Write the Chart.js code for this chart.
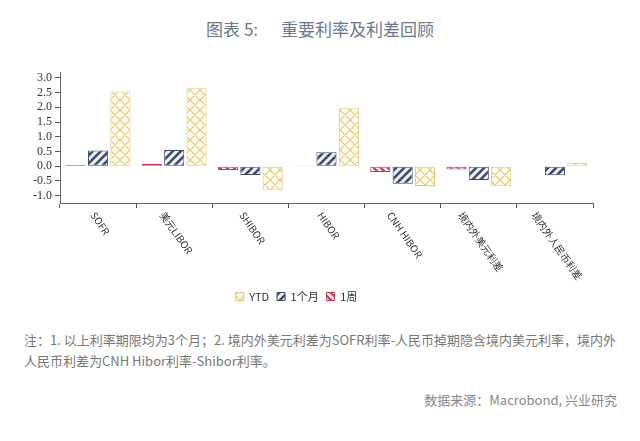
<!DOCTYPE html>
<html><head><meta charset="utf-8">
<script src="https://cdn.jsdelivr.net/npm/chart.js@4"></script>
<style>
body{margin:0;background:#fff;width:640px;height:441px;position:relative;overflow:hidden;font-family:"Noto Sans CJK SC","Noto Sans",sans-serif;}
#title{position:absolute;top:16px;left:0;width:640px;text-align:center;font-size:17px;color:#6b7890;white-space:pre;}
#wrap{position:absolute;left:0;top:60px;width:640px;height:256px;}
#note{position:absolute;left:24px;top:329px;font-size:13px;color:#777;line-height:21px;white-space:nowrap;}
#src{position:absolute;right:23px;top:390px;font-size:13px;color:#888;}
</style></head>
<body>
<div id="title">图表 5:      重要利率及利差回顾</div>
<div id="wrap"><canvas id="c"></canvas></div>
<div id="note">注：1. 以上利率期限均为3个月；2. 境内外美元利差为SOFR利率-人民币掉期隐含境内美元利率，境内外<br>人民币利差为CNH Hibor利率-Shibor利率。</div>
<div id="src">数据来源：Macrobond, 兴业研究</div>
<script>
const categories = ["SOFR","美元LIBOR","SHIBOR","HIBOR","CNH HIBOR","境内外美元利差","境内外人民币利差"];
const week  = [0.04, 0.08, -0.13, 0.02, -0.20, -0.11, -0.02];
const month = [0.53, 0.55, -0.30, 0.47, -0.60, -0.47, -0.31];
const ytd   = [2.54, 2.65, -0.80, 1.97, -0.67, -0.68, 0.12];
const yTicks = [-1.0, -0.5, 0.0, 0.5, 1.0, 1.5, 2.0, 2.5, 3.0];
const seriesNames = ["1周", "1个月", "YTD"];

const GOLD = "#ebc46c", NAVY = "#3d4c6c", RED = "#c93a52";

function stripePattern(color, bg, size, lw, dir) {
  const c = document.createElement("canvas");
  c.width = size; c.height = size;
  const g = c.getContext("2d");
  g.fillStyle = bg; g.fillRect(0,0,size,size);
  g.strokeStyle = color; g.lineWidth = lw; g.lineCap = "square";
  g.beginPath();
  if (dir > 0) {
    for (let k = -1; k <= 1; k++) { g.moveTo(k*size, size); g.lineTo(k*size+size, 0); }
  } else {
    for (let k = -1; k <= 1; k++) { g.moveTo(k*size, 0); g.lineTo(k*size+size, size); }
  }
  g.stroke();
  return g.createPattern(c, "repeat");
}
function crossPattern(color, bg, size, lw) {
  const c = document.createElement("canvas");
  c.width = size; c.height = size;
  const g = c.getContext("2d");
  g.fillStyle = bg; g.fillRect(0,0,size,size);
  g.strokeStyle = color; g.lineWidth = lw;
  g.beginPath();
  for (let k = -1; k <= 1; k++) {
    g.moveTo(k*size, size); g.lineTo(k*size+size, 0);
    g.moveTo(k*size, 0); g.lineTo(k*size+size, size);
  }
  g.stroke();
  return g.createPattern(c, "repeat");
}
const pWeek = stripePattern(RED, "#fbeef0", 7, 2.2, -1);
const pMonth = stripePattern(NAVY, "#eef1f6", 8, 2.6, 1);
const pYtd = crossPattern(GOLD, "#fffdf6", 10, 1.2);

const xLabelPlugin = {
  id: "xlabels",
  afterDraw(chart) {
    const xs = chart.scales.x, ctx = chart.ctx;
    const th = 55 * Math.PI / 180;
    ctx.save();
    ctx.font = '10px "Noto Sans CJK SC", sans-serif';
    ctx.fillStyle = "#333";
    ctx.textAlign = "center"; ctx.textBaseline = "middle";
    categories.forEach((lab, i) => {
      const x = xs.getPixelForValue(i);
      const w = ctx.measureText(lab).width;
      const y = xs.top + 10 + (w/2) * Math.sin(th);
      ctx.save();
      ctx.translate(x + 2, y);
      ctx.rotate(th);
      ctx.fillText(lab, 0, 0);
      ctx.restore();
    });
    ctx.restore();
  }
};

new Chart(document.getElementById("c"), {
  type: "bar",
  data: {
    labels: categories,
    datasets: [
      { label: seriesNames[0], data: week, backgroundColor: pWeek, borderColor: RED, borderWidth: 1, borderSkipped: false },
      { label: seriesNames[1], data: month, backgroundColor: pMonth, borderColor: NAVY, borderWidth: 1, borderSkipped: false },
      { label: seriesNames[2], data: ytd, backgroundColor: pYtd, borderColor: GOLD, borderWidth: 1, borderSkipped: false }
    ]
  },
  options: {
    responsive: true, maintainAspectRatio: false, animation: false,
    layout: { padding: { top: 12, right: 47, left: 0, bottom: 4 } },
    categoryPercentage: 0.88, barPercentage: 0.9,
    plugins: {
      title: { display: false },
      tooltip: { enabled: false },
      legend: {
        position: "bottom", reverse: true,
        labels: { boxWidth: 8, boxHeight: 8, padding: 8, color: "#333",
          font: { size: 11, family: '"Noto Sans CJK SC", sans-serif' } }
      }
    },
    scales: {
      x: {
        grid: { offset: true, drawOnChartArea: false, drawTicks: true, tickLength: 5, color: "#555" },
        border: { color: "#666", width: 1 },
        ticks: { display: false },
        afterFit(s) { s.height = 80; }
      },
      y: {
        min: -1.25, max: 3.2,
        afterBuildTicks(s) { s.ticks = yTicks.map(v => ({ value: v })); },
        grid: { drawOnChartArea: false, drawTicks: true, tickLength: 5, color: "#555" },
        border: { color: "#666", width: 1 },
        ticks: { color: "#333", padding: 3, autoSkip: false, font: { size: 12, family: '"Liberation Serif", serif' },
          callback: v => Number(v).toFixed(1) },
        afterFit(s) { s.width = 60; }
      }
    }
  },
  plugins: [xLabelPlugin]
});
</script>
</body></html>
